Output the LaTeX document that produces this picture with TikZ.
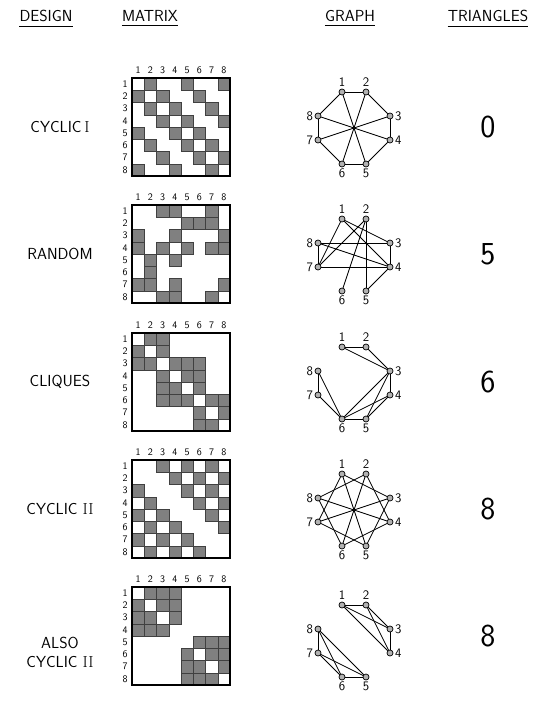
\documentclass[tikz,border=0pt]{standalone}
\usepackage{fontspec}
\usepackage{tikz}
\usetikzlibrary{calc}
\tikzset{
  cellfill/.style={fill=black!50, draw=black!75, line width=0.4pt},
  matbox/.style={draw, line width=1.2pt},
  idx/.style={font=\sffamily\fontsize{10}{10}\selectfont, inner sep=0pt},
  vertex/.style={circle, draw, fill=black!30, inner sep=0pt, minimum size=6pt, line width=0.7pt},
  edge/.style={line width=0.85pt},
  heading/.style={font=\sffamily\fontsize{16}{16}\selectfont, inner sep=0pt},
  design/.style={font=\sffamily\fontsize{16}{19}\selectfont, align=center, inner sep=0pt},
  count/.style={font=\sffamily\fontsize{32}{32}\selectfont, inner sep=0pt},
  every label/.style={font=\sffamily\fontsize{13}{13}\selectfont, inner sep=1.5pt},
}
% adjacency matrix: #1 name, #2 top edge, #3 shaded cells row/{columns}
\newcommand{\adjmat}[3]{%
  \foreach \r/\cs in {#3} {
    \foreach \c in \cs {
      \path[cellfill] ({132+(\c-1)*12.25},{#2+(\r-1)*12.25}) rectangle ++(12.25,12.25);
    }
  }
  \draw[matbox] (132,#2) rectangle ++(98,98);
  \foreach \i in {1,...,8} {
    \node[idx] (#1c\i) at ({132+(\i-0.5)*12.25},{#2-8}) {\i};
    \node[idx] (#1r\i) at (125,{#2+(\i-0.5)*12.25}) {\i};
  }
}
% eight graph vertices round an octagon, #1 name, #2 top edge
\newcommand{\octnodes}[2]{%
  \node[vertex, label=above:1] (#1-1) at (342,{#2+14}) {};
  \node[vertex, label=above:2] (#1-2) at (366,{#2+14}) {};
  \node[vertex, label=right:3] (#1-3) at (390,{#2+38}) {};
  \node[vertex, label=right:4] (#1-4) at (390,{#2+62}) {};
  \node[vertex, label=below:5] (#1-5) at (366,{#2+86}) {};
  \node[vertex, label=below:6] (#1-6) at (342,{#2+86}) {};
  \node[vertex, label=left:7] (#1-7) at (318,{#2+62}) {};
  \node[vertex, label=left:8] (#1-8) at (318,{#2+38}) {};
}
\begin{document}
\begin{tikzpicture}[x=1pt, y=-1pt]
  \useasboundingbox[fill=white] (0,0) rectangle (553,702);

  % column headings
  \node[heading] (hdesign) at (46,16) {DESIGN};
  \node[heading] (hmatrix) at (150,16) {MATRIX};
  \node[heading] (hgraph) at (350,16) {GRAPH};
  \node[heading] (htri) at (488,16) {\addfontfeature{LetterSpace=6}TRIANGLES};
  \foreach \h in {hdesign,hmatrix,hgraph,htri}
    \draw[line width=0.7pt] ([yshift=-4pt]\h.south west) -- ([yshift=-4pt]\h.south east);

  % cyclic I
  \node[design] (d1) at (60,127) {CYCLIC\,{\rmfamily I}};
  \adjmat{ma}{78}{1/{2,5,8},2/{1,3,6},3/{2,4,7},4/{3,5,8},5/{1,4,6},6/{2,5,7},7/{3,6,8},8/{1,4,7}}
  \octnodes{ga}{78}
  \foreach \a/\b in {1/2,2/3,3/4,4/5,5/6,6/7,7/8,8/1,1/5,2/6,3/7,4/8}
    \draw[edge] (ga-\a) -- (ga-\b);
  \node[count] (t1) at (488,127) {0};

  % random
  \node[design] (d2) at (60,254) {RANDOM};
  \adjmat{mb}{205}{1/{3,4,7},2/{5,6,7},3/{1,4,8},4/{1,3,5,7,8},5/{2,4},6/{2},7/{1,2,4,8},8/{3,4,7}}
  \octnodes{gb}{205}
  \foreach \a/\b in {1/3,1/4,1/7,2/5,2/6,2/7,3/4,3/8,4/5,4/7,4/8,7/8}
    \draw[edge] (gb-\a) -- (gb-\b);
  \node[count] (t2) at (488,254) {5};

  % cliques
  \node[design] (d3) at (60,382) {CLIQUES};
  \adjmat{mc}{333}{1/{2,3},2/{1,3},3/{1,2,4,5,6},4/{3,5,6},5/{3,4,6},6/{3,4,5,7,8},7/{6,8},8/{6,7}}
  \octnodes{gc}{333}
  \foreach \a/\b in {1/2,1/3,2/3,3/4,3/5,3/6,4/5,4/6,5/6,6/7,6/8,7/8}
    \draw[edge] (gc-\a) -- (gc-\b);
  \node[count] (t3) at (488,382) {6};

  % cyclic II
  \node[design] (d4) at (60,509) {CYCLIC {\rmfamily II}};
  \adjmat{md}{460}{1/{3,5,7},2/{4,6,8},3/{1,5,7},4/{2,6,8},5/{1,3,7},6/{2,4,8},7/{1,3,5},8/{2,4,6}}
  \octnodes{gd}{460}
  \foreach \a/\b in {1/3,1/5,1/7,3/5,3/7,5/7,2/4,2/6,2/8,4/6,4/8,6/8}
    \draw[edge] (gd-\a) -- (gd-\b);
  \node[count] (t4) at (488,509) {8};

  % also cyclic II
  \node[design] (d5) at (60,652) {ALSO\\CYCLIC {\rmfamily II}};
  \adjmat{me}{587}{1/{2,3,4},2/{1,3,4},3/{1,2,4},4/{1,2,3},5/{6,7,8},6/{5,7,8},7/{5,6,8},8/{5,6,7}}
  \octnodes{ge}{591}
  \foreach \a/\b in {1/2,1/3,1/4,2/3,2/4,3/4,5/6,5/7,5/8,6/7,6/8,7/8}
    \draw[edge] (ge-\a) -- (ge-\b);
  \node[count] (t5) at (488,636) {8};
\end{tikzpicture}
\end{document}
